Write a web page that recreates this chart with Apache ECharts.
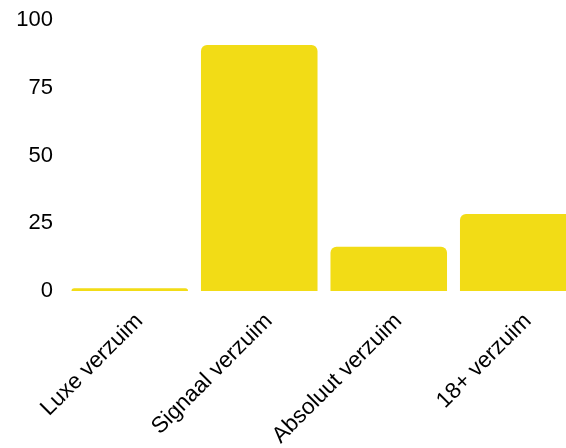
<!DOCTYPE html>
<html><head><meta charset="utf-8">
<script src="https://cdn.jsdelivr.net/npm/echarts@6/dist/echarts.min.js"></script>
<style>html,body{margin:0;padding:0;background:#fff}#c{width:566px;height:448px}</style>
</head><body><div id="c"></div>
<script>
const categories = ["Luxe verzuim", "Signaal verzuim", "Absoluut verzuim", "18+ verzuim"];
const values = [1, 90.8, 16.3, 28.4];
const yTicks = [0, 25, 50, 75, 100];

const chart = echarts.init(document.getElementById('c'), null, {renderer: 'canvas'});
chart.setOption({
  animation: false,
  grid: {left: 65, right: -17, top: 20, bottom: 157, containLabel: false, outerBoundsMode: 'none'},
  xAxis: {
    type: 'category', data: categories,
    axisLine: {show: false}, axisTick: {show: false},
    axisLabel: {rotate: 45, fontSize: 22.5, color: '#000', fontFamily: 'Liberation Sans, Arial, sans-serif',
      margin: 17, interval: 0, align: 'right', verticalAlign: 'top', padding: [2, 0, 0, 0]}
  },
  yAxis: {
    type: 'value', min: yTicks[0], max: yTicks[yTicks.length - 1], interval: 25,
    splitLine: {show: false}, axisLine: {show: false}, axisTick: {show: false},
    axisLabel: {fontSize: 22, color: '#000', fontFamily: 'Liberation Sans, Arial, sans-serif', margin: 12}
  },
  series: [{
    type: 'bar', data: values, barCategoryGap: '10%',
    itemStyle: {color: '#f2dc16', borderRadius: [6, 6, 0, 0]}
  }]
});
</script></body></html>
